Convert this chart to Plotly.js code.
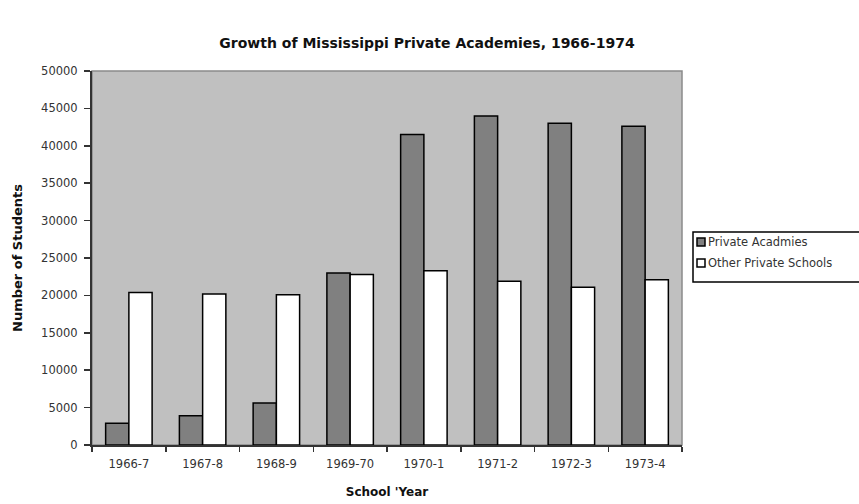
<!DOCTYPE html>
<html>
<head>
<meta charset="utf-8">
<script src="https://cdn.plot.ly/plotly-3.0.1.min.js"></script>
<style>html,body{margin:0;padding:0;background:#fff;}#chart{width:859px;height:504px;}</style>
</head>
<body>
<div id="chart"></div>
<script>
const categories = ["1966-7","1967-8","1968-9","1969-70","1970-1","1971-2","1972-3","1973-4"];
const privateAcademies = [2900, 3900, 5600, 23000, 41500, 44000, 43000, 42600];
const otherPrivateSchools = [20400, 20200, 20100, 22800, 23300, 21900, 21100, 22100];
const yTicks = [0,5000,10000,15000,20000,25000,30000,35000,40000,45000,50000];
const seriesNames = ["Private Acadmies", "Other Private Schools"];
const seriesColors = ["#808080", "#ffffff"];

const font = "DejaVu Sans, Verdana, sans-serif";
const data = [
  {type:"bar", name:seriesNames[0], x:categories, y:privateAcademies,
   marker:{color:seriesColors[0], line:{color:"#000", width:1.5}}},
  {type:"bar", name:seriesNames[1], x:categories, y:otherPrivateSchools,
   marker:{color:seriesColors[1], line:{color:"#000", width:1.5}}}
];

// plot area in pixels: x 92..682, y 71..445
const px = v => (v - 92) / 590;
const py = v => (445 - v) / 374;

const shapes = [
  {type:"rect", xref:"paper", yref:"paper", x0:0, x1:1, y0:0, y1:1, line:{color:"#8a8a8a", width:1.5}, layer:"below"},
  {type:"rect", xref:"paper", yref:"paper", x0:px(693), x1:px(880), y0:py(282), y1:py(232), line:{color:"#000", width:1.5}, fillcolor:"#fff", layer:"above"}
];
const annotations = [];
const rowY = [242, 263];
seriesNames.forEach((n, i) => {
  shapes.push({type:"rect", xref:"paper", yref:"paper", x0:px(697), x1:px(705), y0:py(rowY[i]+4), y1:py(rowY[i]-4),
               fillcolor:seriesColors[i], line:{color:"#000", width:1.5}, layer:"above"});
  annotations.push({xref:"paper", yref:"paper", x:px(706), y:py(rowY[i]), xanchor:"left", yanchor:"middle",
                    text:n, showarrow:false, font:{family:font, size:11.5, color:"#333"}});
});

const layout = {
  width:859, height:504,
  margin:{l:92, r:177, t:71, b:59},
  paper_bgcolor:"#ffffff", plot_bgcolor:"#c0c0c0",
  barmode:"group", bargap:0.37, bargroupgap:0, showlegend:false,
  font:{family:font, size:11, color:"#222"},
  title:{text:"<b>Growth of Mississippi Private Academies, 1966-1974</b>", x:427/859, xref:"container", xanchor:"center", y:1-43/504, yref:"container", yanchor:"middle", font:{family:font, size:14, color:"#111"}},
  xaxis:{type:"category", showline:true, linecolor:"#333", linewidth:2, ticks:"outside", tickson:"boundaries", ticklen:5, tickcolor:"#333", tickwidth:1.5,
         showgrid:false, tickfont:{size:11.5, color:"#333"}, ticklabelstandoff:7,
         title:{text:"<b>School 'Year</b>", font:{size:12, color:"#111"}, standoff:18}},
  yaxis:{range:[0,50000], tickvals:yTicks, ticktext:yTicks.map(String), showline:true, linecolor:"#333", linewidth:2,
         ticks:"outside", ticklen:6, tickcolor:"#333", tickwidth:1.5, showgrid:false, zeroline:false,
         tickfont:{size:11.5, color:"#333"}, ticklabelstandoff:4,
         title:{text:"<b>Number of Students</b>", font:{size:13, color:"#111"}, standoff:16}},
  shapes:shapes,
  annotations:annotations
};
Plotly.newPlot("chart", data, layout, {displayModeBar:false, staticPlot:true});
</script>
</body>
</html>
